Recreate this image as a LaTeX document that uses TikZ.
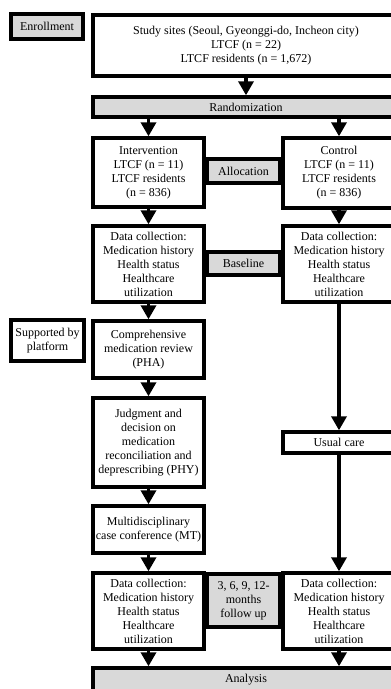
\documentclass[tikz,border=0pt]{standalone}
\usepackage{fontspec}
\setmainfont{Liberation Serif}
\usetikzlibrary{arrows.meta}
\definecolor{boxgray}{RGB}{217,217,217}
\tikzset{
  box/.style={draw=black, line width=3.4pt, fill=white, align=center, inner sep=1pt,
    font=\fontsize{12}{14}\selectfont},
  graybox/.style={box, fill=boxgray},
  arr/.style={line width=3.4pt, -{Triangle[width=15pt,length=14pt]}}
}
\begin{document}
\begin{tikzpicture}[x=1pt,y=-1pt]
\useasboundingbox (0,0) rectangle (391,689);
\clip (0,0) rectangle (391,689);
% left labels
\node[graybox, minimum width=72, minimum height=25] (enr) at (47,26.5) {Enrollment};
\node[box, minimum width=73, minimum height=41] (sup) at (47.5,340.5) {Supported by\\platform};
% top
\node[box, minimum width=306, minimum height=61] (top) at (246,45.5) {Study sites (Seoul, Gyeonggi-do, Incheon city)\\LTCF (n = 22)\\LTCF residents (n = 1,672)};
\node[graybox, minimum width=306, minimum height=20] (rand) at (246,107) {Randomization};
% intervention column
\node[box, minimum width=111, minimum height=69] (int) at (148.5,172.5) {Intervention\\LTCF (n = 11)\\LTCF residents\\(n = 836)};
\node[box, minimum width=111, minimum height=76] (dci) at (148.5,264) {Data collection:\\Medication history\\Health status\\Healthcare\\utilization};
\node[box, minimum width=111, minimum height=57] (cmr) at (148.5,349.5) {Comprehensive\\medication review\\(PHA)};
\node[box, minimum width=111, minimum height=89] (jud) at (148.5,442.5) {Judgment and\\decision on\\medication\\reconciliation and\\deprescribing (PHY)};
\node[box, minimum width=111, minimum height=47] (mt) at (148.5,529.5) {Multidisciplinary\\case conference (MT)};
\node[box, minimum width=111, minimum height=76] (dci2) at (148.5,611) {Data collection:\\Medication history\\Health status\\Healthcare\\utilization};
% middle labels
\node[graybox, minimum width=73, minimum height=24] (alloc) at (243.5,171) {Allocation};
\node[graybox, minimum width=73, minimum height=23] (base) at (243.5,263.5) {Baseline};
\node[graybox, minimum width=73, minimum height=53] (fu) at (243.5,600.5) {3, 6, 9, 12-\\months\\follow up};
% control column
\node[box, minimum width=112, minimum height=70] (ctrl) at (339,173) {Control\\LTCF (n = 11)\\LTCF residents\\(n = 836)};
\node[box, minimum width=112, minimum height=76] (dcc) at (339,264) {Data collection:\\Medication history\\Health status\\Healthcare\\utilization};
\node[box, minimum width=112, minimum height=21] (usual) at (339,442.5) {Usual care};
\node[box, minimum width=112, minimum height=76] (dcc2) at (339,611) {Data collection:\\Medication history\\Health status\\Healthcare\\utilization};
% analysis
\node[graybox, minimum width=306, minimum height=24] (ana) at (246,680) {Analysis};
% connectors
\draw[arr] (top) -- (rand);
\draw[arr] (rand.south -| int.north) -- (int.north);
\draw[arr] (rand.south -| ctrl.north) -- (ctrl.north);
\draw[arr] (int) -- (dci);
\draw[arr] (dci) -- (cmr);
\draw[arr] (cmr) -- (jud);
\draw[arr] (jud) -- (mt);
\draw[arr] (mt) -- (dci2);
\draw[arr] (dci2.south) -- (ana.north -| dci2.south);
\draw[arr] (ctrl) -- (dcc);
\draw[arr] (dcc) -- (usual);
\draw[arr] (usual) -- (dcc2);
\draw[arr] (dcc2.south) -- (ana.north -| dcc2.south);
\end{tikzpicture}
\end{document}
